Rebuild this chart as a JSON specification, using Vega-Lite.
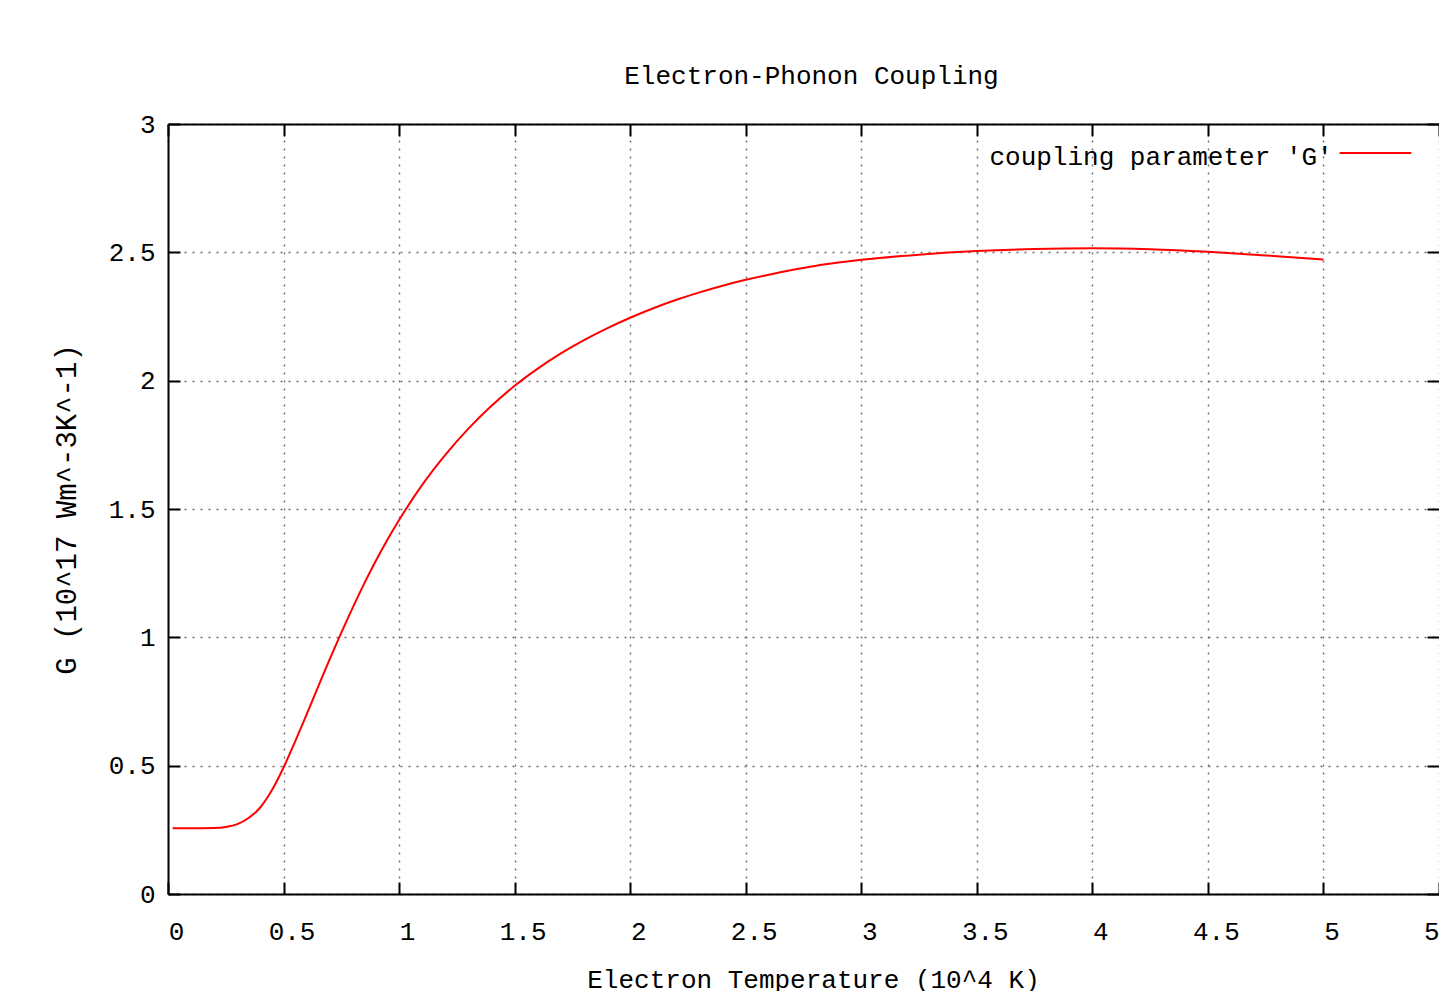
{
  "$schema": "https://vega.github.io/schema/vega-lite/v6.json",
  "autosize": "none",
  "width": 1271,
  "height": 770,
  "padding": {"left": 168, "top": 124, "right": 0, "bottom": 97},
  "background": "white",
  "config": {
    "font": "Liberation Mono",
    "view": {"stroke": null},
    "axis": {
      "labelFont": "Liberation Mono",
      "titleFont": "Liberation Mono",
      "labelFontSize": 26,
      "titleFontSize": 26,
      "titleFontWeight": "normal",
      "labelColor": "black",
      "titleColor": "black",
      "domainColor": "black",
      "domainWidth": 2,
      "tickColor": "black",
      "tickWidth": 2,
      "tickSize": -12,
      "gridColor": "#6e6e6e",
      "gridDash": [2, 6],
      "gridWidth": 1.4
    },
    "title": {"font": "Liberation Mono", "fontSize": 26, "fontWeight": "normal", "color": "black"}
  },
  "title": {"text": "Electron-Phonon Coupling", "offset": 22, "dx": 8},
  "data": {
    "values": [
      {"T": 0.02, "G": 0.256},
      {"T": 0.1, "G": 0.256},
      {"T": 0.2, "G": 0.257},
      {"T": 0.25, "G": 0.261},
      {"T": 0.3, "G": 0.272},
      {"T": 0.35, "G": 0.297},
      {"T": 0.4, "G": 0.338},
      {"T": 0.45, "G": 0.405},
      {"T": 0.5, "G": 0.493},
      {"T": 0.55, "G": 0.594},
      {"T": 0.6, "G": 0.7},
      {"T": 0.65, "G": 0.808},
      {"T": 0.7, "G": 0.915},
      {"T": 0.75, "G": 1.018},
      {"T": 0.8, "G": 1.117},
      {"T": 0.85, "G": 1.211},
      {"T": 0.9, "G": 1.299},
      {"T": 0.95, "G": 1.381},
      {"T": 1.0, "G": 1.457},
      {"T": 1.1, "G": 1.594},
      {"T": 1.2, "G": 1.711},
      {"T": 1.3, "G": 1.813},
      {"T": 1.4, "G": 1.902},
      {"T": 1.5, "G": 1.98},
      {"T": 1.6, "G": 2.047},
      {"T": 1.7, "G": 2.106},
      {"T": 1.8, "G": 2.158},
      {"T": 1.9, "G": 2.204},
      {"T": 2.0, "G": 2.245},
      {"T": 2.1, "G": 2.282},
      {"T": 2.2, "G": 2.315},
      {"T": 2.3, "G": 2.344},
      {"T": 2.4, "G": 2.37},
      {"T": 2.5, "G": 2.393},
      {"T": 2.6, "G": 2.413},
      {"T": 2.7, "G": 2.431},
      {"T": 2.8, "G": 2.447},
      {"T": 2.9, "G": 2.46},
      {"T": 3.0, "G": 2.471},
      {"T": 3.25, "G": 2.491},
      {"T": 3.5, "G": 2.505},
      {"T": 3.75, "G": 2.513},
      {"T": 4.0, "G": 2.516},
      {"T": 4.25, "G": 2.512},
      {"T": 4.5, "G": 2.502},
      {"T": 4.75, "G": 2.488},
      {"T": 5.0, "G": 2.472}
    ]
  },
  "resolve": {"axis": {"x": "independent", "y": "independent"}},
  "layer": [
    {
      "mark": {"type": "line", "color": "#ff0000", "strokeWidth": 2, "interpolate": "monotone"},
      "encoding": {
        "x": {
          "field": "T", "type": "quantitative",
          "scale": {"domain": [0, 5.5], "nice": false, "zero": false},
          "axis": {"orient": "bottom", "values": [0, 0.5, 1, 1.5, 2, 2.5, 3, 3.5, 4, 4.5, 5, 5.5], "format": "~g", "labelPadding": 36, "labelOffset": 8, "labelFlush": false, "title": "Electron Temperature (10^4 K)", "titlePadding": 22, "titleX": 645}
        },
        "y": {
          "field": "G", "type": "quantitative",
          "scale": {"domain": [0, 3], "nice": false},
          "axis": {"orient": "left", "values": [0, 0.5, 1, 1.5, 2, 2.5, 3], "format": "~g", "labelPadding": 25, "labelFlush": false, "title": "G (10^17 Wm^-3K^-1)", "titleFontSize": 29, "titlePadding": 27}
        }
      }
    },
    {
      "data": {"values": [{}]},
      "mark": {"type": "text", "align": "right", "baseline": "alphabetic", "fontSize": 26, "font": "Liberation Mono", "color": "black"},
      "encoding": {
        "x": {"datum": 5.04, "type": "quantitative", "axis": {"orient": "top", "values": [0, 0.5, 1, 1.5, 2, 2.5, 3, 3.5, 4, 4.5, 5, 5.5], "labels": false, "grid": false, "title": null}},
        "y": {"datum": 2.84, "type": "quantitative", "axis": {"orient": "right", "values": [0, 0.5, 1, 1.5, 2, 2.5, 3], "labels": false, "grid": false, "domain": false, "title": null}},
        "text": {"value": "coupling parameter 'G'"}
      }
    },
    {
      "data": {"values": [{}]},
      "mark": {"type": "rule", "color": "#ff0000", "strokeWidth": 2},
      "encoding": {
        "x": {"datum": 5.07, "type": "quantitative", "axis": null},
        "x2": {"datum": 5.38},
        "y": {"datum": 2.887, "type": "quantitative", "axis": null}
      }
    }
  ]
}
